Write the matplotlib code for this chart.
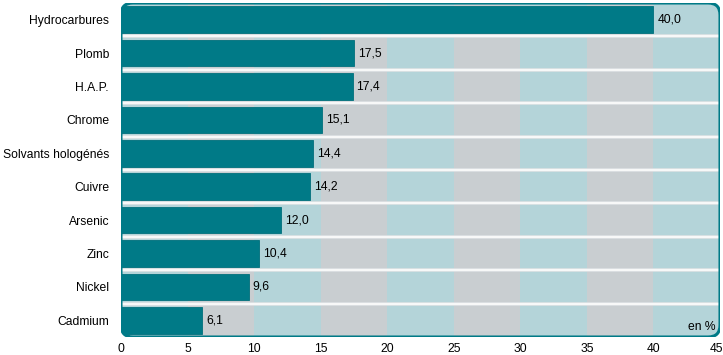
import matplotlib
matplotlib.use("Agg")
import matplotlib.pyplot as plt
import matplotlib.transforms as mtransforms
from matplotlib.patches import FancyBboxPatch

plt.rcParams['font.family'] = ['Liberation Sans', 'DejaVu Sans']

# donnees
categories = ["Hydrocarbures", "Plomb", "H.A.P.", "Chrome", "Solvants hologénés",
              "Cuivre", "Arsenic", "Zinc", "Nickel", "Cadmium"]
valeurs = [40.0, 17.5, 17.4, 15.1, 14.4, 14.2, 12.0, 10.4, 9.6, 6.1]
ticks_x = [0, 5, 10, 15, 20, 25, 30, 35, 40, 45]

teal = "#007a87"
gris = "#c9ced1"
bleu = "#b4d4d9"
fs = 8.7

fig = plt.figure(figsize=(7.23, 3.55), dpi=100)
ax = fig.add_axes([121/723, 18/355, 599/723, 334/355])
ax.patch.set_visible(False)

n = len(categories)
ypos = list(range(n))

# cadre arrondi
cadre = FancyBboxPatch((0, 0), 1, 1, boxstyle="round,pad=0,rounding_size=0.02",
                       transform=ax.transAxes, facecolor="none", edgecolor=teal,
                       linewidth=2.2, zorder=5, mutation_aspect=599/334)
ax.add_patch(cadre)

# bandes verticales
for k, x in enumerate(ticks_x[:-1]):
    s = ax.axvspan(x, x + 5, color=bleu if k % 2 == 0 else gris, zorder=0, lw=0)
    s.set_clip_path(cadre)

# lignes blanches entre categories (avec une ombre grise)
for i in range(n - 1):
    o = ax.axhline(i + 0.5, color="#dfe3e5", lw=2.6, zorder=1)
    o.set_clip_path(cadre)
    l = ax.axhline(i + 0.5, color="white", lw=1.1, zorder=1)
    l.set_clip_path(cadre)

bars = ax.barh(ypos, valeurs, height=0.8, color=teal, edgecolor="#00707c",
               lw=0.6, zorder=2)
for b in bars:
    b.set_clip_path(cadre)

for y, v in zip(ypos, valeurs):
    ax.text(v + 0.3, y, f"{v:.1f}".replace(".", ","), va="center", ha="left",
            fontsize=fs, zorder=3)

ax.text(0.993, 0.012, "en %", transform=ax.transAxes, ha="right", va="bottom",
        fontsize=fs, zorder=6)

ax.set_xlim(0, 45)
ax.set_ylim(n - 0.5, -0.5)
ax.set_xticks(ticks_x)
ax.set_yticks(ypos)
ax.set_yticklabels(categories)
ax.tick_params(axis="both", length=0, labelsize=fs)
ax.tick_params(axis="y", pad=8.6)
ax.tick_params(axis="x", pad=4)
for sp in ax.spines.values():
    sp.set_visible(False)

last = ax.get_xticklabels()[-1]
last.set_ha("right")
last.set_transform(last.get_transform() + mtransforms.ScaledTranslation(3/100, 0, fig.dpi_scale_trans))

fig.savefig("out.png", dpi=100)
